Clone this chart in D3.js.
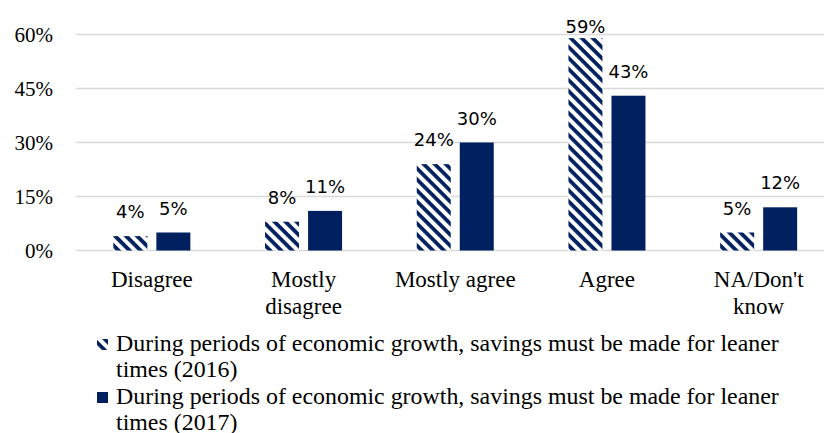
<!DOCTYPE html>
<html>
<head>
<meta charset="utf-8">
<script src="https://cdn.jsdelivr.net/npm/d3@7"></script>
<style>
  html, body { margin: 0; padding: 0; background: #fff; }
  svg { display: block; }
</style>
</head>
<body>
<svg id="chart" width="824" height="433"></svg>
<script>
// Survey answers, share of respondents per year
const categories = [["Disagree"], ["Mostly", "disagree"], ["Mostly agree"], ["Agree"], ["NA/Don't", "know"]];
const categoryKeys = ["Disagree", "Mostly disagree", "Mostly agree", "Agree", "NA/Don't know"];
const values2016 = [4, 8, 24, 59, 5];
const values2017 = [5, 11, 30, 43, 12];
const seriesNames = [
  "During periods of economic growth, savings must be made for leaner times (2016)",
  "During periods of economic growth, savings must be made for leaner times (2017)"
];
const legendLines = [
  ["During periods of economic growth, savings must be made for leaner", "times (2016)"],
  ["During periods of economic growth, savings must be made for leaner", "times (2017)"]
];
const yTicks = [0, 15, 30, 45, 60];

const navy = "#002060";
const serif = "'Liberation Serif', 'Times New Roman', serif";
const sans = "'DejaVu Sans', sans-serif";

const svg = d3.select("#chart");

// Diagonal hatch for the 2016 series
const defs = svg.append("defs");
const hatch = defs.append("pattern")
  .attr("id", "hatch")
  .attr("patternUnits", "userSpaceOnUse")
  .attr("width", 7.8).attr("height", 7.8)
  .attr("patternTransform", "rotate(45)");
hatch.append("rect").attr("width", 7.8).attr("height", 7.8).attr("fill", "#fff");
hatch.append("rect").attr("width", 7.8).attr("height", 3.8).attr("fill", navy);

const seriesFill = ["url(#hatch)", navy];

const x0 = d3.scaleBand()
  .domain(categoryKeys)
  .range([76, 834.5])
  .paddingInner(0.4924)
  .paddingOuter(0.2462);

const x1 = d3.scaleBand()
  .domain([0, 1])
  .range([0, x0.bandwidth()])
  .paddingInner(0.21);

const y = d3.scaleLinear().domain([0, 60]).range([250.5, 34.5]);

// Gridlines
svg.append("g")
  .selectAll("line")
  .data(yTicks)
  .join("line")
  .attr("x1", 76).attr("x2", 834.5)
  .attr("y1", d => y(d)).attr("y2", d => y(d))
  .attr("stroke", "#d9d9d9").attr("stroke-width", 1.3);

// Y axis labels
const yAxis = svg.append("g")
  .attr("transform", "translate(60,0)")
  .call(d3.axisLeft(y).tickValues(yTicks).tickFormat(d => d + "%").tickSize(0).tickPadding(7));
yAxis.select(".domain").remove();
yAxis.selectAll("text")
  .attr("font-family", serif).attr("font-size", 21).attr("fill", "#000")
  .attr("dy", "0.35em");

// Bars
const rows = categoryKeys.map((k, i) => ({ key: k, vals: [values2016[i], values2017[i]] }));
const groups = svg.append("g").selectAll("g")
  .data(rows)
  .join("g")
  .attr("transform", d => `translate(${x0(d.key)},0)`);

groups.selectAll("rect")
  .data(d => d.vals.map((v, s) => ({ v, s })))
  .join("rect")
  .attr("x", d => x1(d.s))
  .attr("width", x1.bandwidth())
  .attr("y", d => y(d.v))
  .attr("height", d => y(0) - y(d.v))
  .attr("fill", d => seriesFill[d.s]);

// Value labels, kept inside the plot at the top
groups.selectAll("text")
  .data(d => d.vals.map((v, s) => ({ v, s })))
  .join("text")
  .attr("x", d => x1(d.s) + x1.bandwidth() / 2)
  .attr("y", d => Math.max(y(d.v) - 18, 33))
  .attr("text-anchor", "middle")
  .attr("font-family", sans).attr("font-size", 18).attr("fill", "#000")
  .text(d => d.v + "%");

// Category labels
const catG = svg.append("g");
categories.forEach((lines, i) => {
  const cx = x0(categoryKeys[i]) + x0.bandwidth() / 2;
  const t = catG.append("text")
    .attr("x", cx).attr("y", 287)
    .attr("text-anchor", "middle")
    .attr("font-family", serif).attr("font-size", 23).attr("fill", "#000");
  lines.forEach((ln, j) => {
    t.append("tspan").attr("x", cx).attr("dy", j === 0 ? 0 : 26.5).text(ln);
  });
});

// Legend
const legend = svg.append("g");
legendLines.forEach((lines, i) => {
  const base = 351 + i * 53;
  legend.append("rect")
    .attr("x", 97).attr("y", base - 12)
    .attr("width", 11).attr("height", 11)
    .attr("fill", seriesFill[i]);
  const t = legend.append("text")
    .attr("x", 116).attr("y", base)
    .attr("font-family", serif).attr("font-size", 23.9).attr("fill", "#000");
  t.append("title").text(seriesNames[i]);
  lines.forEach((ln, j) => {
    t.append("tspan").attr("x", 116).attr("dy", j === 0 ? 0 : 26).text(ln);
  });
});
</script>
</body>
</html>
